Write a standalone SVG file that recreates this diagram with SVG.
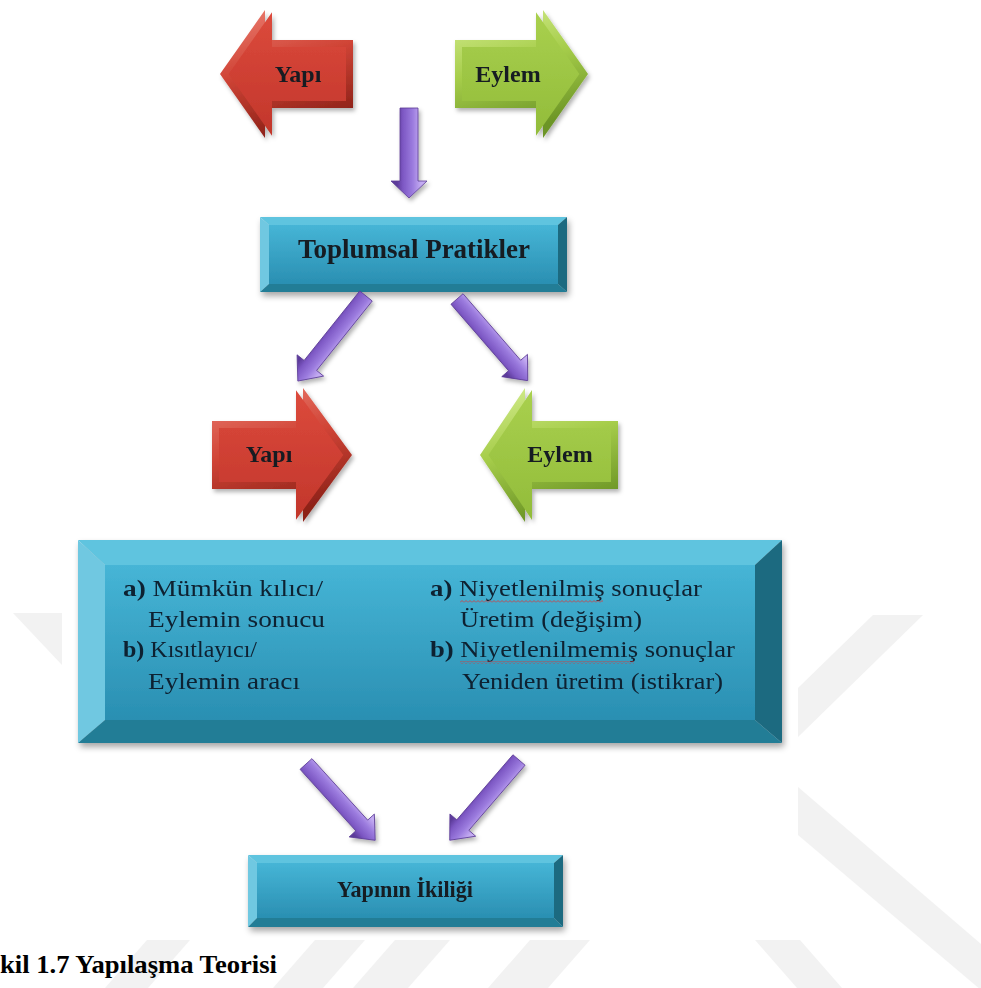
<svg xmlns="http://www.w3.org/2000/svg" width="981" height="988" viewBox="0 0 981 988">
  <defs>
    <filter id="shadow" x="-15%" y="-15%" width="140%" height="150%">
      <feDropShadow dx="2" dy="4" stdDeviation="3" flood-color="#000" flood-opacity="0.35"/>
    </filter>
    <filter id="softShadow" x="-30%" y="-30%" width="160%" height="160%">
      <feDropShadow dx="2" dy="3" stdDeviation="2" flood-color="#000" flood-opacity="0.3"/>
    </filter>
    <linearGradient id="gFace" x1="0" y1="0" x2="0" y2="1">
      <stop offset="0" stop-color="#46b5d6"/>
      <stop offset="1" stop-color="#2a8fb2"/>
    </linearGradient>
    <linearGradient id="gRedOuter" x1="0" y1="0" x2="0.3" y2="1">
      <stop offset="0" stop-color="#ec7f72"/>
      <stop offset="0.5" stop-color="#d04436"/>
      <stop offset="1" stop-color="#8e2219"/>
    </linearGradient>
    <linearGradient id="gRedFace" x1="0" y1="0" x2="0" y2="1">
      <stop offset="0" stop-color="#dc4a3c"/>
      <stop offset="1" stop-color="#c2362b"/>
    </linearGradient>
    <linearGradient id="gGreenOuter" x1="0" y1="0" x2="0.3" y2="1">
      <stop offset="0" stop-color="#d6ee92"/>
      <stop offset="0.5" stop-color="#a6cd4a"/>
      <stop offset="1" stop-color="#6c9526"/>
    </linearGradient>
    <linearGradient id="gGreenFace" x1="0" y1="0" x2="0" y2="1">
      <stop offset="0" stop-color="#a9d04e"/>
      <stop offset="1" stop-color="#92bc3a"/>
    </linearGradient>
    <!-- purple arrows are drawn along +x, so the gradient runs across the shaft -->
    <linearGradient id="gPur" gradientUnits="userSpaceOnUse" x1="0" y1="-12" x2="0" y2="12">
      <stop offset="0" stop-color="#c4acf2"/>
      <stop offset="0.35" stop-color="#9b7bde"/>
      <stop offset="0.75" stop-color="#7d58c4"/>
      <stop offset="1" stop-color="#5c3b9a"/>
    </linearGradient>
    <pattern id="squig" width="4" height="3" patternUnits="userSpaceOnUse">
      <path d="M0,2.5 L2,0.5 L4,2.5" fill="none" stroke="#d33" stroke-width="0.8"/>
    </pattern>
  </defs>
  <style>
    .wm{fill:#f2f2f2}
    .bt{fill:#5fc4df}
    .bl{fill:#70c8e1}
    .br{fill:#1d6a80}
    .bb{fill:#247d96}
    .face{fill:url(#gFace)}
    .lbl{font-family:"Liberation Serif","Times New Roman",serif;font-weight:bold;fill:#141a22}
    .body{font-family:"Liberation Serif","Times New Roman",serif;font-size:23px;fill:#0f2030}
    .body .b{font-weight:bold}
    .pur{fill:url(#gPur);stroke:#5b3b95;stroke-width:0.8}
    .cap{font-family:"Liberation Serif","Times New Roman",serif;font-weight:bold;font-size:26px;fill:#000}
  </style>

  <rect width="981" height="988" fill="#fff"/>

  <!-- faint page watermark -->
  <g id="watermark">
    <polygon class="wm" points="13,613 62,613 62,665"/>
    <polygon class="wm" points="873,615 923,615 798,737 798,688"/>
    <polygon class="wm" points="798,787 981,944 981,990 798,835"/>
    <polygon class="wm" points="147,940 190,940 148,988 105,988"/>
    <polygon class="wm" points="315,940 365,940 323,988 273,988"/>
    <polygon class="wm" points="395,940 450,940 408,988 353,988"/>
    <polygon class="wm" points="530,940 590,940 548,988 488,988"/>
    <polygon class="wm" points="755,940 800,940 842,988 797,988"/>
  </g>

  <!-- top pair: Yapı / Eylem -->
  <g id="yapi-top" filter="url(#softShadow)">
    <polygon fill="url(#gRedOuter)" points="220,74 265,10 265,40 353,40 353,108 265,108 265,138"/>
    <polygon fill="url(#gRedFace)" points="228.6,74 272,12.3 272,47 346,47 346,101 272,101 272,135.7"/>
    <text class="lbl" x="298" y="82" font-size="24" text-anchor="middle">Yapı</text>
  </g>
  <g id="eylem-top" filter="url(#softShadow)">
    <polygon fill="url(#gGreenOuter)" points="588,74 543,10 543,40 455,40 455,108 543,108 543,138"/>
    <polygon fill="url(#gGreenFace)" points="579.4,74 536,12.3 536,47 462,47 462,101 536,101 536,135.7"/>
    <text class="lbl" x="508" y="82" font-size="24" text-anchor="middle">Eylem</text>
  </g>

  <!-- Toplumsal Pratikler -->
  <g id="toplumsal" filter="url(#shadow)">
    <polygon class="bt" points="260,217 567,217 558,225 269,225"/>
    <polygon class="bl" points="260,217 269,225 269,284 260,292"/>
    <polygon class="br" points="567,217 567,292 558,284 558,225"/>
    <polygon class="bb" points="260,292 567,292 558,284 269,284"/>
    <rect class="face" x="269" y="225" width="289" height="59"/>
    <text class="lbl" x="414" y="258" font-size="27" text-anchor="middle" textLength="232" lengthAdjust="spacing">Toplumsal Pratikler</text>
  </g>

  <!-- middle pair: Yapı → ← Eylem -->
  <g id="yapi-mid" filter="url(#softShadow)">
    <polygon fill="url(#gRedOuter)" points="352,455 303,388 303,421 212,421 212,489 303,489 303,522"/>
    <polygon fill="url(#gRedFace)" points="343.3,455 296,390.3 296,428 219,428 219,482 296,482 296,519.7"/>
    <text class="lbl" x="269" y="462" font-size="24" text-anchor="middle">Yapı</text>
  </g>
  <g id="eylem-mid" filter="url(#softShadow)">
    <polygon fill="url(#gGreenOuter)" points="480,455 525,388 525,421 618,421 618,489 525,489 525,522"/>
    <polygon fill="url(#gGreenFace)" points="488.4,455 532,390.1 532,428 611,428 611,482 532,482 532,519.9"/>
    <text class="lbl" x="560" y="462" font-size="24" text-anchor="middle">Eylem</text>
  </g>

  <!-- detail box -->
  <g id="details" filter="url(#shadow)">
    <polygon class="bt" points="78,540 782,540 755,565 105,565"/>
    <polygon class="bl" points="78,540 105,565 105,720 78,743"/>
    <polygon class="br" points="782,540 782,743 755,720 755,565"/>
    <polygon class="bb" points="78,743 782,743 755,720 105,720"/>
    <rect class="face" x="105" y="565" width="650" height="155"/>
    <g class="body">
      <text x="123" y="596" textLength="200" lengthAdjust="spacingAndGlyphs"><tspan class="b">a)</tspan> Mümkün kılıcı/</text>
      <text x="148" y="627" textLength="177" lengthAdjust="spacingAndGlyphs">Eylemin sonucu</text>
      <text x="123" y="657" textLength="134" lengthAdjust="spacingAndGlyphs"><tspan class="b">b)</tspan> Kısıtlayıcı/</text>
      <text x="148" y="689" textLength="152" lengthAdjust="spacingAndGlyphs">Eylemin aracı</text>
      <text x="430" y="596" textLength="272" lengthAdjust="spacingAndGlyphs"><tspan class="b">a)</tspan> Niyetlenilmiş sonuçlar</text>
      <text x="460" y="627" textLength="182" lengthAdjust="spacingAndGlyphs">Üretim  (değişim)</text>
      <text x="430" y="657" textLength="305" lengthAdjust="spacingAndGlyphs"><tspan class="b">b)</tspan> Niyetlenilmemiş sonuçlar</text>
      <text x="462" y="689" textLength="261" lengthAdjust="spacingAndGlyphs">Yeniden üretim (istikrar)</text>
    </g>
    <rect x="460" y="600" width="143" height="3" fill="url(#squig)"/>
    <rect x="460" y="661" width="174" height="3" fill="url(#squig)"/>
  </g>

  <!-- Yapının İkiliği -->
  <g id="ikilik" filter="url(#shadow)">
    <polygon class="bt" points="248,855 563,855 554,863 257,863"/>
    <polygon class="bl" points="248,855 257,863 257,918 248,927"/>
    <polygon class="br" points="563,855 563,927 554,918 554,863"/>
    <polygon class="bb" points="248,927 563,927 554,918 257,918"/>
    <rect class="face" x="257" y="863" width="297" height="55"/>
    <text class="lbl" x="405" y="897" font-size="23" text-anchor="middle" textLength="136" lengthAdjust="spacingAndGlyphs">Yapının İkiliği</text>
  </g>

  <!-- connectors: block arrows drawn along +x from the tail -->
  <g id="connectors" filter="url(#softShadow)">
    <polygon class="pur" transform="translate(409,108) rotate(90)" points="0,-9 73,-9 73,-18 90,0 73,18 73,9 0,9"/>
    <polygon class="pur" transform="translate(366,296) rotate(128.7)" points="0,-8 89,-8 89,-17 109,0 89,17 89,8 0,8"/>
    <polygon class="pur" transform="translate(457,299) rotate(49.1)" points="0,-8 88,-8 88,-17 108,0 88,17 88,8 0,8"/>
    <polygon class="pur" transform="translate(306,764) rotate(47.8)" points="0,-8 83,-8 83,-17 103,0 83,17 83,8 0,8"/>
    <polygon class="pur" transform="translate(519,760) rotate(130.8)" points="0,-8 86,-8 86,-17 106,0 86,17 86,8 0,8"/>
  </g>

  <text class="cap" x="0" y="973" textLength="277" lengthAdjust="spacingAndGlyphs">kil 1.7 Yapılaşma Teorisi</text>
</svg>
